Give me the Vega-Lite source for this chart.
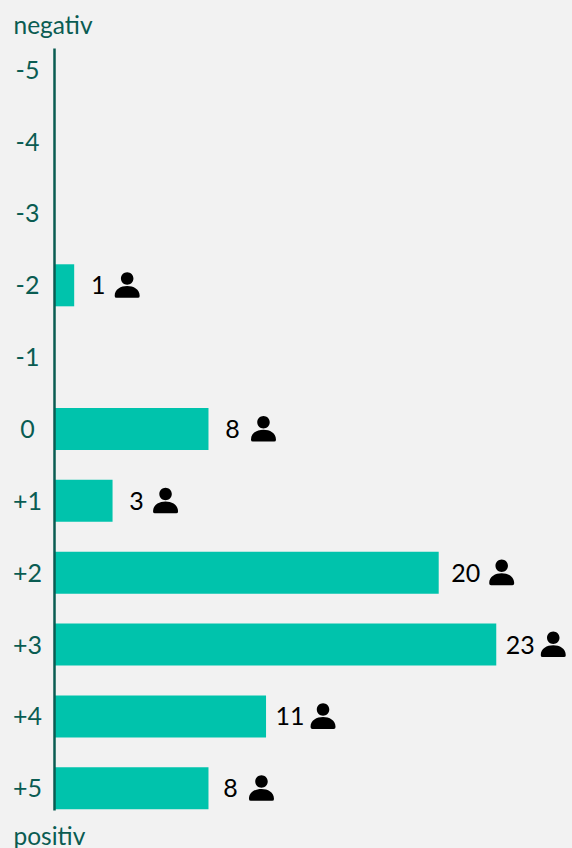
{"$schema":"https://vega.github.io/schema/vega-lite/v6.json","width":518,"height":762,"autosize":{"type":"none"},"padding":{"left":54,"top":48,"right":0,"bottom":38},"background":"#f2f2f2","config":{"view":{"stroke":null},"font":"Lato"},"data":{"values":[{"score":"-5","n":0},{"score":"-4","n":0},{"score":"-3","n":0},{"score":"-2","n":1},{"score":"-1","n":0},{"score":"0","n":8},{"score":"+1","n":3},{"score":"+2","n":20},{"score":"+3","n":23},{"score":"+4","n":11},{"score":"+5","n":8}]},"encoding":{"y":{"field":"score","type":"nominal","sort":null,"scale":{"domain":["-5","-4","-3","-2","-1","0","+1","+2","+3","+4","+5"],"paddingInner":0.415,"paddingOuter":0.01},"axis":{"zindex":1,"title":"negativ","titleAngle":0,"titleX":-41,"titleY":-22,"titleAlign":"left","titleBaseline":"middle","titleFontSize":24.5,"titleFontWeight":"normal","titleColor":"#0a5c52","titleFont":"Lato","domainColor":"#0a5c52","domainWidth":2.5,"ticks":false,"labelFontSize":25,"labelColor":"#0a5c52","labelPadding":27,"labelAlign":"center","labelFont":"Lato","labelOffset":1}},"x":{"field":"n","type":"quantitative","scale":{"domain":[0,27]},"axis":{"title":"positiv","titleX":-41,"titleY":27,"titleAlign":"left","titleBaseline":"middle","titleFontSize":24.5,"titleFontWeight":"normal","titleColor":"#0a5c52","titleFont":"Lato","domain":false,"ticks":false,"labels":false,"grid":false}}},"layer":[{"mark":{"type":"bar","color":"#00c3ac","xOffset":1},"transform":[{"filter":"datum.n>0"}]},{"mark":{"type":"text","align":"center","baseline":"middle","dx":25,"dy":1,"fontSize":25,"color":"#000000"},"transform":[{"filter":"datum.n>0 && datum.n!=20 && datum.score!='+5'"}],"encoding":{"text":{"field":"n","type":"quantitative"}}},{"mark":{"type":"text","align":"center","baseline":"middle","dx":28,"dy":1,"fontSize":25,"color":"#000000"},"transform":[{"filter":"datum.n==20"}],"encoding":{"text":{"field":"n","type":"quantitative"}}},{"mark":{"type":"text","align":"center","baseline":"middle","dx":23,"dy":1,"fontSize":25,"color":"#000000"},"transform":[{"filter":"datum.score=='+5'"}],"encoding":{"text":{"field":"n","type":"quantitative"}}},{"mark":{"type":"point","shape":"M-.5 -.55A.5 .5 0 1 1 .5 -.55A.5 .5 0 1 1 -.5 -.55ZM-1 .85C-1 .3 -.5 .05 0 .05C.5 .05 1 .3 1 .85Q1 1 .85 1L-.85 1Q-1 1 -1 .85Z","filled":true,"fill":"#000000","stroke":null,"opacity":1,"size":625,"xOffset":54},"transform":[{"filter":"datum.n>0 && datum.n<10 && datum.score!='0'"}]},{"mark":{"type":"point","shape":"M-.5 -.55A.5 .5 0 1 1 .5 -.55A.5 .5 0 1 1 -.5 -.55ZM-1 .85C-1 .3 -.5 .05 0 .05C.5 .05 1 .3 1 .85Q1 1 .85 1L-.85 1Q-1 1 -1 .85Z","filled":true,"fill":"#000000","stroke":null,"opacity":1,"size":625,"xOffset":56},"transform":[{"filter":"datum.score=='0'"}]},{"mark":{"type":"point","shape":"M-.5 -.55A.5 .5 0 1 1 .5 -.55A.5 .5 0 1 1 -.5 -.55ZM-1 .85C-1 .3 -.5 .05 0 .05C.5 .05 1 .3 1 .85Q1 1 .85 1L-.85 1Q-1 1 -1 .85Z","filled":true,"fill":"#000000","stroke":null,"opacity":1,"size":625,"xOffset":58},"transform":[{"filter":"datum.n==23 || datum.n==11"}]},{"mark":{"type":"point","shape":"M-.5 -.55A.5 .5 0 1 1 .5 -.55A.5 .5 0 1 1 -.5 -.55ZM-1 .85C-1 .3 -.5 .05 0 .05C.5 .05 1 .3 1 .85Q1 1 .85 1L-.85 1Q-1 1 -1 .85Z","filled":true,"fill":"#000000","stroke":null,"opacity":1,"size":625,"xOffset":64},"transform":[{"filter":"datum.n==20"}]}]}
